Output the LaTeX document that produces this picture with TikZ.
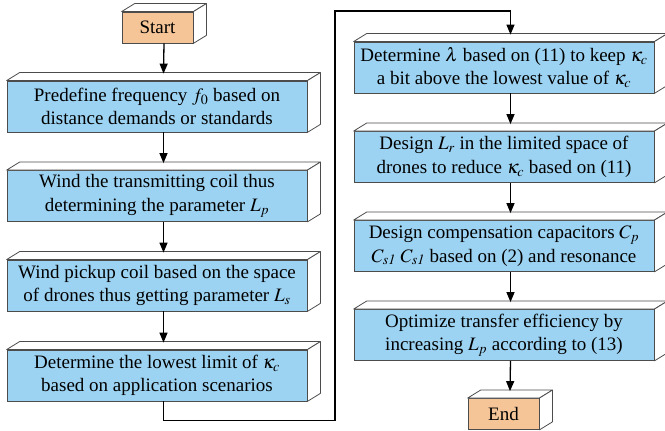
\documentclass[tikz,border=0pt]{standalone}
\usepackage{mathptmx}
\usepackage{fontspec}
\setmainfont{Liberation Serif}
\usetikzlibrary{arrows.meta}
\definecolor{boxblue}{RGB}{157,211,242}
\definecolor{boxorange}{RGB}{245,197,152}

\begin{document}
\begin{tikzpicture}[x=1pt,y=1pt,
  stepbox/.style={draw=black!70,line width=0.8pt,fill=boxblue,minimum width=300pt,minimum height=51pt,inner sep=0pt,align=center,font=\fontsize{19}{23.5}\selectfont},
  endbox/.style={stepbox,fill=boxorange,minimum width=71pt,minimum height=31pt},
  face/.style={draw=black!70,line width=0.8pt,fill=white,line join=round},
  flow/.style={line width=1.3pt,-{Triangle[length=10pt,width=8pt]}}]
\useasboundingbox (0,0) rectangle (665,431);
\node [endbox] (start) at (157.5,403.5) {Start};
\node [stepbox] (freq) at (157,324.5) {Predefine frequency $f_0$ based on\\distance demands or standards};
\node [stepbox] (coilp) at (157,235) {Wind the transmitting coil thus\\determining the parameter $L_p$};
\node [stepbox] (coils) at (157,145.5) {Wind pickup coil based on the space\\of drones thus getting parameter $L_s$};
\node [stepbox] (kmin) at (157,55.5) {Determine the lowest limit of $\kappa_c$\\based on application scenarios};
\node [stepbox] (lam) at (504,363.5) {Determine $\lambda$ based on (11) to keep $\kappa_c$\\a bit above the lowest value of $\kappa_c$};
\node [stepbox] (relay) at (504,274) {Design $L_r$ in the limited space of\\drones to reduce $\kappa_c$ based on (11)};
\node [stepbox] (caps) at (504,185) {Design compensation capacitors $C_p$\\$C_{\mathit{s1}}$ $C_{\mathit{s1}}$ based on (2) and resonance};
\node [stepbox] (eff) at (504,96) {Optimize transfer efficiency by\\increasing $L_p$ according to (13)};
\node [endbox] (end) at (503.5,17) {End};
\foreach \n in {start,freq,coilp,coils,kmin,lam,relay,caps,eff,end} {
  \draw [face] (\n.north west) -- ([shift={(13,8)}]\n.north west) -- ([shift={(13,8)}]\n.north east) -- (\n.north east) -- cycle;
  \draw [face] (\n.north east) -- ([shift={(13,8)}]\n.north east) -- ([shift={(13,8)}]\n.south east) -- (\n.south east) -- cycle;
}
\foreach \a/\b in {start/freq,freq/coilp,coilp/coils,coils/kmin,lam/relay,relay/caps,caps/eff,eff/end}
  \draw [flow] ([xshift=6.5pt]\a.south) -- ([xshift=6.5pt,yshift=7pt]\b.north);
\draw [flow] ([xshift=6.5pt]kmin.south) -- ++(0,-19) -| (335,420) -| ([xshift=6.5pt,yshift=7pt]lam.north);
\end{tikzpicture}
\end{document}
